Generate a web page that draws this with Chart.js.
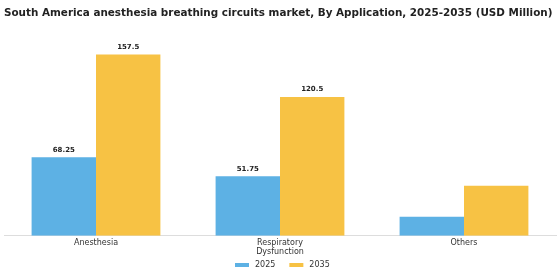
<!DOCTYPE html>
<html><head><meta charset="utf-8">
<script src="https://cdn.jsdelivr.net/npm/chart.js@4"></script>
<style>html,body{margin:0;padding:0;background:#fff}#w{width:560px;height:280px}</style>
</head><body><div id="w"><canvas id="c" width="560" height="280"></canvas></div>
<script>
const categories = [["Anesthesia"], ["Respiratory", "Dysfunction"], ["Others"]];
const series2025 = [68.25, 51.75, 16.5];
const series2035 = [157.5, 120.5, 43.5];
const labels2025 = ["68.25", "51.75", ""];
const labels2035 = ["157.5", "120.5", ""];

const labelPlugin = {
  id: 'barLabels',
  afterDatasetsDraw(chart) {
    const ctx = chart.ctx;
    const sets = [labels2025, labels2035];
    ctx.save();
    ctx.font = 'bold 7px "DejaVu Sans"';
    ctx.fillStyle = '#222';
    ctx.textAlign = 'center';
    ctx.textBaseline = 'bottom';
    chart.data.datasets.forEach((ds, i) => {
      chart.getDatasetMeta(i).data.forEach((bar, j) => {
        const t = sets[i][j];
        if (t) ctx.fillText(t, bar.x, bar.y - 4);
      });
    });
    ctx.restore();
  }
};

const legendPlugin = {
  id: 'customLegend',
  afterDraw(chart) {
    const ctx = chart.ctx;
    ctx.save();
    ctx.font = '8px "DejaVu Sans"';
    ctx.textBaseline = 'middle';
    ctx.textAlign = 'left';
    const boxW = 14, boxH = 4, gap = 6, itemGap = 14;
    const items = chart.data.datasets.map(ds => ({ text: ds.label, color: ds.backgroundColor, w: ctx.measureText(ds.label).width }));
    let total = items.reduce((s, it) => s + boxW + gap + it.w, 0) + itemGap * (items.length - 1);
    let x = Math.round(chart.width / 2 - total / 2) + 2;
    const y = 265;
    items.forEach(it => {
      ctx.fillStyle = it.color;
      ctx.fillRect(x, y - boxH / 2, boxW, boxH);
      x += boxW + gap;
      ctx.fillStyle = '#333';
      ctx.fillText(it.text, x, y);
      x += it.w + itemGap;
    });
    ctx.restore();
  }
};

new Chart(document.getElementById('c'), {
  type: 'bar',
  data: {
    labels: categories,
    datasets: [
      { label: '2025', data: series2025, backgroundColor: '#5DB1E4', categoryPercentage: 0.7, barPercentage: 1.0 },
      { label: '2035', data: series2035, backgroundColor: '#F7C244', categoryPercentage: 0.7, barPercentage: 1.0 }
    ]
  },
  options: {
    responsive: false,
    animation: false,
    devicePixelRatio: 1,
    layout: { padding: { left: 4, right: 4, top: 0, bottom: 21 } },
    plugins: {
      title: {
        display: true, align: 'start',
        text: 'South America anesthesia breathing circuits market, By Application, 2025-2035 (USD Million)',
        font: { family: '"DejaVu Sans"', size: 10.4, weight: 'bold' }, color: '#222',
        padding: { top: 7, bottom: 12 }
      },
      legend: { display: false },
      tooltip: { enabled: false }
    },
    scales: {
      x: {
        grid: { display: false, drawTicks: false },
        border: { display: true, color: '#ddd' },
        ticks: { font: { family: '"DejaVu Sans"', size: 8 }, color: '#333', padding: 2 }
      },
      y: {
        display: false, min: 0, max: 177.5
      }
    }
  },
  plugins: [labelPlugin, legendPlugin]
});
</script></body></html>
